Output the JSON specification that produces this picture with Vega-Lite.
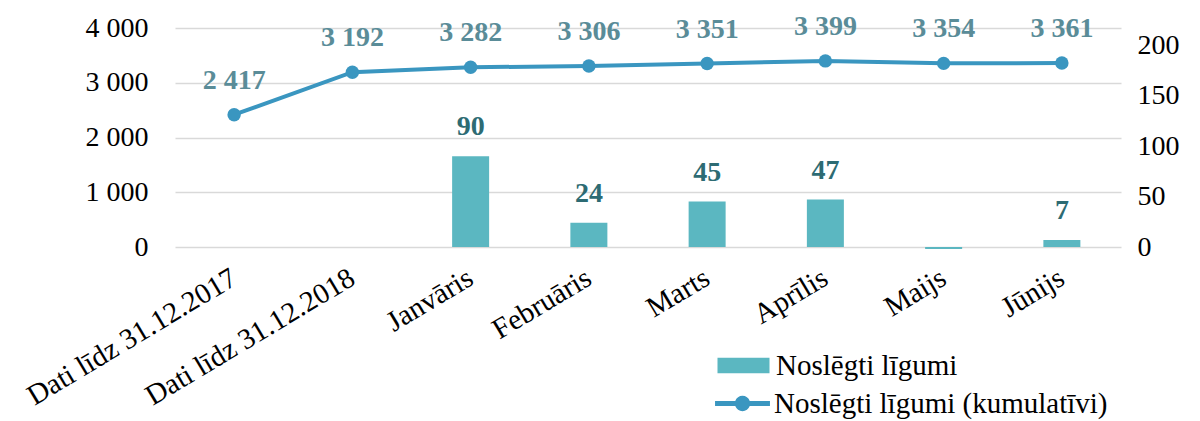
{
  "$schema": "https://vega.github.io/schema/vega-lite/v6.json",
  "autosize": "none",
  "width": 946,
  "height": 219,
  "padding": {"left": 175, "top": 28, "right": 79, "bottom": 174},
  "background": "white",
  "config": {
    "view": {"stroke": null},
    "font": "Liberation Serif",
    "locale": {"number": {"decimal": ",", "thousands": " ", "grouping": [3], "currency": ["", ""]}}
  },
  "data": {
    "values": [
      {"cat": "Dati līdz 31.12.2017", "n": null, "cum": 2417},
      {"cat": "Dati līdz 31.12.2018", "n": null, "cum": 3192},
      {"cat": "Janvāris", "n": 90, "cum": 3282},
      {"cat": "Februāris", "n": 24, "cum": 3306},
      {"cat": "Marts", "n": 45, "cum": 3351},
      {"cat": "Aprīlis", "n": 47, "cum": 3399},
      {"cat": "Maijs", "n": -2, "cum": 3354},
      {"cat": "Jūnijs", "n": 7, "cum": 3361}
    ]
  },
  "encoding": {
    "x": {
      "field": "cat", "type": "nominal", "title": null,
      "sort": ["Dati līdz 31.12.2017", "Dati līdz 31.12.2018", "Janvāris", "Februāris", "Marts", "Aprīlis", "Maijs", "Jūnijs"],
      "scale": {"paddingInner": 0, "paddingOuter": 0},
      "axis": {
        "labelAngle": -31, "labelAlign": "right", "labelBaseline": "middle",
        "labelFontSize": 29, "labelColor": "#000000", "labelPadding": 28,
        "domain": false, "ticks": false, "labelFont": "Liberation Serif", "labelLimit": 400
      }
    }
  },
  "layer": [
    {
      "mark": {"type": "bar", "size": 37},
      "encoding": {
        "y": {
          "field": "n", "type": "quantitative", "title": null,
          "scale": {"domain": [0, 217], "nice": false, "zero": true},
          "axis": {
            "orient": "right", "values": [0, 50, 100, 150, 200], "grid": false,
            "domain": false, "ticks": false, "labelFontSize": 28, "labelColor": "#000000",
            "labelPadding": 16, "labelFont": "Liberation Serif"
          }
        },
        "fill": {
          "datum": "Noslēgti līgumi", "type": "nominal",
          "scale": {"range": ["#5bb7c1"]},
          "legend": {
            "title": null, "orient": "none", "legendX": 552, "legendY": 321,
            "symbolType": "M-1.7,-0.5H1.7V0.5H-1.7Z", "symbolSize": 936,
            "labelFontSize": 29, "labelColor": "#000000", "labelFont": "Liberation Serif",
            "symbolOpacity": 1, "labelOffset": 16, "labelLimit": 500
          }
        }
      }
    },
    {
      "transform": [{"filter": "datum.n != null && datum.n > 0"}],
      "mark": {"type": "text", "dy": -29, "fontSize": 28, "fontWeight": "bold", "color": "#2d6b73", "font": "Liberation Serif"},
      "encoding": {
        "y": {"field": "n", "type": "quantitative", "scale": {"domain": [0, 217], "nice": false}, "axis": null},
        "text": {"field": "n", "type": "quantitative", "format": ",d"}
      }
    },
    {
      "mark": {"type": "line", "strokeWidth": 4, "color": "#3a96c0"},
      "encoding": {
        "y": {
          "field": "cum", "type": "quantitative", "title": null,
          "scale": {"domain": [0, 4000], "nice": false},
          "axis": {
            "orient": "left", "values": [0, 1000, 2000, 3000, 4000], "format": ",d",
            "grid": true, "gridColor": "#d9d9d9", "gridWidth": 1.5,
            "domain": false, "ticks": false, "labelFontSize": 28, "labelColor": "#000000",
            "labelPadding": 27, "labelFont": "Liberation Serif"
          }
        },
        "stroke": {
          "datum": "Noslēgti līgumi (kumulatīvi)", "type": "nominal",
          "scale": {"range": ["#3a96c0"]},
          "legend": {
            "title": null, "orient": "none", "legendX": 549, "legendY": 357,
            "symbolType": "M-1.5,-0.14H-0.396A0.42,0.42 0 0,1 0.396,-0.14H1.5V0.14H0.396A0.42,0.42 0 0,1 -0.396,0.14H-1.5Z",
            "symbolFillColor": "#3a96c0", "symbolStrokeWidth": 0, "symbolSize": 1340,
            "labelFontSize": 29, "labelColor": "#000000", "labelFont": "Liberation Serif",
            "labelOffset": 13, "labelLimit": 500
          }
        }
      }
    },
    {
      "mark": {"type": "point", "filled": true, "size": 180, "color": "#3a96c0", "opacity": 1},
      "encoding": {
        "y": {"field": "cum", "type": "quantitative", "scale": {"domain": [0, 4000], "nice": false}, "axis": null}
      }
    },
    {
      "mark": {"type": "text", "dy": -34, "fontSize": 28, "fontWeight": "bold", "color": "#5a8c98", "font": "Liberation Serif"},
      "encoding": {
        "y": {"field": "cum", "type": "quantitative", "scale": {"domain": [0, 4000], "nice": false}, "axis": null},
        "text": {"field": "cum", "type": "quantitative", "format": ",d"}
      }
    }
  ],
  "resolve": {"scale": {"y": "independent"}}
}
